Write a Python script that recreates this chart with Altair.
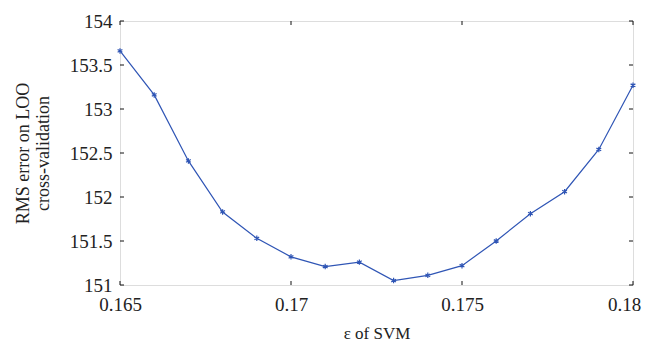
import altair as alt
import pandas as pd

eps = [0.165, 0.166, 0.167, 0.168, 0.169, 0.170, 0.171, 0.172,
       0.173, 0.174, 0.175, 0.176, 0.177, 0.178, 0.179, 0.180]
rms = [153.66, 153.16, 152.41, 151.83, 151.53, 151.32, 151.21, 151.26,
       151.05, 151.11, 151.22, 151.50, 151.81, 152.06, 152.54, 153.27]
x_ticks = [0.165, 0.17, 0.175, 0.18]
y_ticks = [151, 151.5, 152, 152.5, 153, 153.5, 154]

W, H = 513, 264
FONT = "Liberation Serif"
BLUE = "#2f55b5"
TICK = 4

df = pd.DataFrame({"eps": eps, "rms": rms})
dx = pd.DataFrame({"t": x_ticks})
dy = pd.DataFrame({"t": y_ticks})

xs = alt.Scale(domain=[0.165, 0.18], nice=False, zero=False)
ys = alt.Scale(domain=[151, 154], nice=False, zero=False)

x_axis = alt.Axis(values=x_ticks, format="~g", ticks=False, domain=False, grid=False,
                  labelFont=FONT, labelFontSize=19, labelColor="#222", labelPadding=10,
                  labelFlush=False, labelOverlap=False, labelBound=False,
                  labelOffset={"expr": "datum.value > 0.1795 ? -9 : 0"},
                  title="ε of SVM", titleFont=FONT, titleFontSize=17,
                  titleFontWeight="normal", titleColor="#222", titlePadding=11)
y_axis = alt.Axis(values=y_ticks, format="~g", ticks=False, domain=False, grid=False,
                  labelFont=FONT, labelFontSize=19, labelColor="#222", labelPadding=8,
                  labelOverlap=False,
                  title=["RMS error on LOO", "cross-validation"], titleFont=FONT,
                  titleFontSize=18, titleFontWeight="normal", titleColor="#222",
                  titlePadding=17, titleLineHeight=20)

asterisk = "M0,-1L0,1M-0.87,-0.5L0.87,0.5M-0.87,0.5L0.87,-0.5"

line = alt.Chart(df).mark_line(color=BLUE, strokeWidth=1.2).encode(
    x=alt.X("eps:Q", scale=xs, axis=x_axis),
    y=alt.Y("rms:Q", scale=ys, axis=y_axis),
)
pts = alt.Chart(df).mark_point(shape=asterisk, color=BLUE, size=30, strokeWidth=1.2,
                               filled=False, opacity=1).encode(
    x=alt.X("eps:Q", scale=xs),
    y=alt.Y("rms:Q", scale=ys),
)

tick_style = dict(color="#111", strokeWidth=1)
xt_bottom = alt.Chart(dx).mark_rule(**tick_style).encode(
    x=alt.X("t:Q", scale=xs), y=alt.value(H), y2=alt.value(H - TICK))
xt_top = alt.Chart(dx).mark_rule(**tick_style).encode(
    x=alt.X("t:Q", scale=xs), y=alt.value(0), y2=alt.value(TICK))
yt_left = alt.Chart(dy).mark_rule(**tick_style).encode(
    y=alt.Y("t:Q", scale=ys), x=alt.value(0), x2=alt.value(TICK))
yt_right = alt.Chart(dy).mark_rule(**tick_style).encode(
    y=alt.Y("t:Q", scale=ys), x=alt.value(W), x2=alt.value(W - TICK))

chart = alt.layer(xt_bottom, xt_top, yt_left, yt_right, line, pts).properties(
    width=W, height=H,
    autosize=alt.AutoSizeParams(type="none"),
    padding={"left": 112, "top": 13, "right": 9, "bottom": 57},
).configure_view(stroke="#111", strokeWidth=1.5).configure(background="white")

chart.save("out.html", embed_options={"renderer": "svg", "actions": False})
